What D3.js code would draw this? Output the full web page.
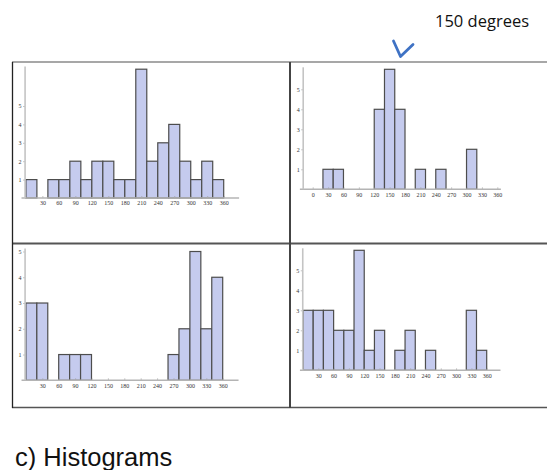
<!DOCTYPE html>
<html>
<head>
<meta charset="utf-8">
<script src="https://cdn.jsdelivr.net/npm/d3@7"></script>
<style>
  body { margin: 0; background: #fff; }
  svg { display: block; }
</style>
</head>
<body>
<svg id="chart" width="547" height="470"></svg>
<script>
// bin edges (degrees), 20-degree bins
const binEdges = d3.range(0, 361, 20);

// counts per bin for each of the four histograms
const countsTopLeft = [1, 0, 1, 1, 2, 1, 2, 2, 1, 1, 7, 2, 3, 4, 2, 1, 2, 1];
const countsTopRight = [0, 1, 1, 0, 0, 0, 4, 6, 4, 0, 1, 0, 1, 0, 0, 2, 0, 0];
const countsBottomLeft = [3, 3, 0, 1, 1, 1, 0, 0, 0, 0, 0, 0, 0, 1, 2, 5, 2, 4];
const countsBottomRight = [3, 3, 3, 2, 2, 6, 1, 2, 0, 1, 2, 0, 1, 0, 0, 0, 3, 1];

// tick labels
const xTicks = d3.range(30, 361, 30);
const xTicksWithZero = d3.range(0, 361, 30);
const yTicks = [1, 2, 3, 4, 5];

const annotation = '150 degrees';
const caption = 'c) Histograms';

const svg = d3.select('#chart');

/**
 * panel layout: where 0 and 360 degrees sit, baseline, top of the
 * y range, where the y axis crosses and how far the x axis runs
 */
const panels = [
    { counts: countsTopLeft, ticks: xTicks, ymax: 7,
      x0: 25.9, x1: 223.7, base: 198, top: 69.2,
      yAxisDeg: -1.5, axisFrom: -8, axisTo: 388, yAxisTop: 7.15 },
    { counts: countsTopRight, ticks: xTicksWithZero, ymax: 6,
      x0: 312.7, x1: 497.3, base: 189.3, top: 69.3,
      yAxisDeg: -18.5, axisFrom: -25, axisTo: 367, yAxisTop: 6.1 },
    { counts: countsBottomLeft, ticks: xTicks, ymax: 5,
      x0: 25.9, x1: 222.7, base: 380.3, top: 251.5,
      yAxisDeg: -1.5, axisFrom: -8, axisTo: 389, yAxisTop: 5.12 },
    { counts: countsBottomRight, ticks: xTicks, ymax: 6,
      x0: 303, x1: 486.7, base: 370.3, top: 250.3,
      yAxisDeg: -0.5, axisFrom: -6, axisTo: 387, yAxisTop: 6.1 }
];

// frame lines round the four panels
const frame = svg.append('g');
frame.append('line').attr('x1', 12).attr('y1', 62).attr('x2', 547).attr('y2', 62)
    .style('stroke', '#8a8a8a').style('stroke-width', 1.5);
frame.append('line').attr('x1', 12).attr('y1', 243.5).attr('x2', 547).attr('y2', 243.5)
    .style('stroke', '#555').style('stroke-width', 2);
frame.append('line').attr('x1', 12).attr('y1', 407.5).attr('x2', 547).attr('y2', 407.5)
    .style('stroke', '#555').style('stroke-width', 1.5);
frame.append('line').attr('x1', 12.5).attr('y1', 62).attr('x2', 12.5).attr('y2', 408)
    .style('stroke', '#222').style('stroke-width', 1.3);
frame.append('line').attr('x1', 290).attr('y1', 62).attr('x2', 290).attr('y2', 408)
    .style('stroke', '#444').style('stroke-width', 2);

panels.forEach(p => {
    const x = d3.scaleLinear().domain([0, 360]).range([p.x0, p.x1]);
    const y = d3.scaleLinear().domain([0, p.ymax]).range([p.base, p.top]);
    const g = svg.append('g');

    const bins = p.counts.map((c, i) => ({ x0: binEdges[i], x1: binEdges[i + 1], count: c }))
        .filter(d => d.count > 0);

    g.selectAll('rect.bar')
        .data(bins)
        .enter().append('rect')
        .attr('class', 'bar')
        .attr('x', d => x(d.x0))
        .attr('y', d => y(d.count))
        .attr('width', d => x(d.x1) - x(d.x0))
        .attr('height', d => y(0) - y(d.count))
        .style('fill', '#c5cbee')
        .style('stroke', '#4d4d4d')
        .style('stroke-width', 1.2);

    // x axis
    const xAxis = g.append('g')
        .attr('transform', `translate(0, ${y(0)})`)
        .call(d3.axisBottom(x).tickValues(p.ticks).tickSize(-2).tickPadding(3)
            .tickFormat(d3.format('d')));
    xAxis.select('.domain').remove();

    // y axis
    const yAxisX = x(p.yAxisDeg);
    const yAxis = g.append('g')
        .attr('transform', `translate(${yAxisX}, 0)`)
        .call(d3.axisLeft(y).tickValues(yTicks).tickSize(2).tickPadding(1.5)
            .tickFormat(d3.format('d')));
    yAxis.select('.domain').remove();

    g.append('line')
        .attr('x1', x(p.axisFrom)).attr('x2', x(p.axisTo))
        .attr('y1', y(0)).attr('y2', y(0))
        .style('stroke', '#b4b4b4').style('stroke-width', 1.4);
    g.append('line')
        .attr('x1', yAxisX).attr('x2', yAxisX)
        .attr('y1', y(0)).attr('y2', y(p.yAxisTop))
        .style('stroke', '#c4c4c4').style('stroke-width', 1.6);

    g.selectAll('.tick line').style('stroke', '#999').style('stroke-width', 0.6);
    g.selectAll('.tick text')
        .attr('font-family', null)
        .style('font-family', '"Liberation Serif", serif')
        .style('font-size', '6px')
        .style('fill', '#333');
});

// annotation and arrow
svg.append('text')
    .attr('x', 435).attr('y', 27)
    .style('font-family', '"Open Sans", sans-serif')
    .style('font-size', '16.5px')
    .style('fill', '#111')
    .text(annotation);

svg.append('path')
    .attr('d', 'M393.5,41 L400.5,56.5 L413,44.5')
    .style('fill', 'none')
    .style('stroke', '#3f72c4')
    .style('stroke-width', 2.8)
    .style('stroke-linecap', 'round')
    .style('stroke-linejoin', 'round');

svg.append('text')
    .attr('x', 15).attr('y', 466)
    .style('font-family', '"Liberation Sans", Arial, sans-serif')
    .style('font-size', '25.5px')
    .style('fill', '#111')
    .text(caption);
</script>
</body>
</html>
